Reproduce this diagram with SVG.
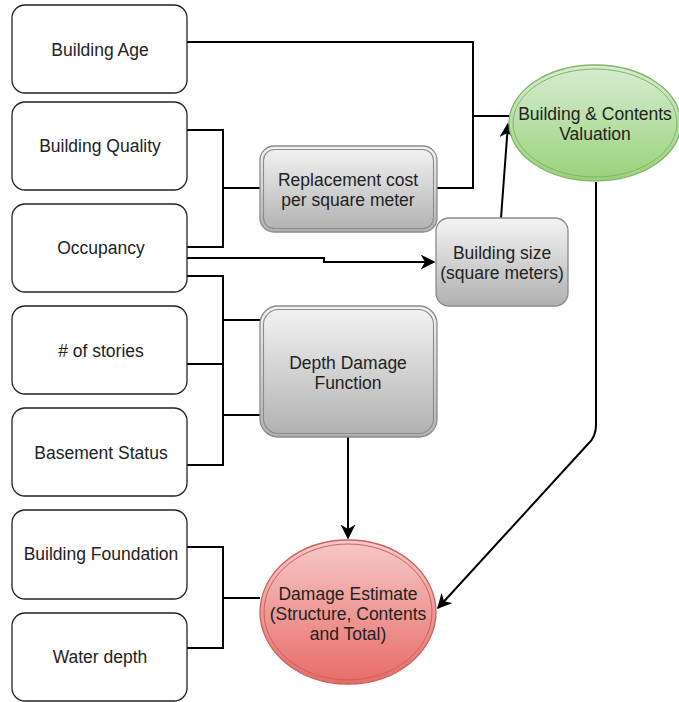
<svg xmlns="http://www.w3.org/2000/svg" width="679" height="702" viewBox="0 0 679 702">
<defs>
<linearGradient id="gGray" x1="0" y1="0" x2="0" y2="1"><stop offset="0" stop-color="#f4f4f4"/><stop offset="1" stop-color="#b0b0b0"/></linearGradient>
<linearGradient id="gGreen" x1="0" y1="0" x2="0" y2="1"><stop offset="0" stop-color="#d8ecd2"/><stop offset="1" stop-color="#98d27a"/></linearGradient>
<linearGradient id="gRed" x1="0" y1="0" x2="0" y2="1"><stop offset="0" stop-color="#f6c9c8"/><stop offset="1" stop-color="#e86b67"/></linearGradient>
<marker id="arr" viewBox="0 0 10 10" refX="9" refY="5" markerWidth="7.5" markerHeight="7.5" orient="auto" markerUnits="strokeWidth">
<path d="M0,0 L10,5 L0,10 L3,5 z" fill="#000"/>
</marker>
<style>
text{font-family:"Liberation Sans",Arial,sans-serif;font-size:17.5px;fill:#222;text-anchor:middle;dominant-baseline:central}
.in{fill:#fff;stroke:#222;stroke-width:1.3}
.gb{fill:url(#gGray);stroke:#8a8a8a;stroke-width:1.3}
.gi{fill:none;stroke:#8a8a8a;stroke-width:1.1}
.c{fill:none;stroke:#000;stroke-width:2}
</style>
</defs>
<g id="connectors">
<polyline class="c" points="187,42 473,42 473,188 437,188"/>
<line class="c" x1="473" y1="116" x2="509" y2="116"/>
<polyline class="c" points="187,130 223,130 223,247 187,247"/>
<line class="c" x1="223" y1="188" x2="260" y2="188"/>
<polyline class="c" points="187,258 324,258 324,262 434,262" marker-end="url(#arr)"/>
<polyline class="c" points="187,276 223,276 223,465 187,465"/>
<line class="c" x1="187" y1="364" x2="223" y2="364"/>
<line class="c" x1="223" y1="320" x2="260" y2="320"/>
<line class="c" x1="223" y1="415" x2="260" y2="415"/>
<line class="c" x1="501" y1="218" x2="508" y2="124" marker-end="url(#arr)"/>
<line class="c" x1="348" y1="437" x2="348" y2="538" marker-end="url(#arr)"/>
<polyline class="c" points="187,547 223,547 223,648 187,648"/>
<line class="c" x1="223" y1="598" x2="260" y2="598"/>
<path class="c" d="M596,182 L596,425 Q596,437 588,444 L438,608" marker-end="url(#arr)"/>
</g>
<g id="building-age"><rect class="in" x="12" y="5" width="175" height="88" rx="13"/><text x="100" y="50">Building Age</text></g>
<g id="building-quality"><rect class="in" x="12" y="102" width="175" height="88" rx="13"/><text x="100" y="146">Building Quality</text></g>
<g id="occupancy"><rect class="in" x="12" y="204" width="175" height="88" rx="13"/><text x="101" y="248">Occupancy</text></g>
<g id="stories"><rect class="in" x="12" y="306" width="175" height="88" rx="13"/><text x="101" y="351"># of stories</text></g>
<g id="basement"><rect class="in" x="12" y="408" width="175" height="88" rx="13"/><text x="101" y="453">Basement Status</text></g>
<g id="foundation"><rect class="in" x="12" y="510" width="175" height="89" rx="13"/><text x="101" y="554">Building Foundation</text></g>
<g id="water-depth"><rect class="in" x="12" y="613" width="175" height="88" rx="13"/><text x="100" y="657">Water depth</text></g>
<g id="replacement-cost"><rect class="gb" x="260" y="146" width="177" height="86" rx="14"/><rect class="gi" x="263.5" y="149.5" width="170" height="79" rx="11"/><text x="348" y="180">Replacement cost</text><text x="348" y="200">per square meter</text></g>
<g id="building-size"><rect class="gb" x="436" y="218" width="132" height="88" rx="13"/><text x="502" y="253">Building size</text><text x="502" y="273">(square meters)</text></g>
<g id="depth-damage"><rect class="gb" x="260" y="306" width="177" height="131" rx="18"/><rect class="gi" x="263.5" y="309.5" width="170" height="124" rx="15"/><text x="348" y="363">Depth Damage</text><text x="348" y="383">Function</text></g>
<g id="valuation"><ellipse cx="595" cy="123" rx="86" ry="58" fill="url(#gGreen)" stroke="#82b366" stroke-width="1.3"/><ellipse cx="595" cy="123" rx="82" ry="54" fill="none" stroke="#82b366" stroke-width="1"/><text x="595" y="114">Building &amp; Contents</text><text x="595" y="134">Valuation</text></g>
<g id="damage-estimate"><ellipse cx="348" cy="612" rx="88" ry="72" fill="url(#gRed)" stroke="#c9605c" stroke-width="1.3"/><ellipse cx="348" cy="612" rx="84" ry="68" fill="none" stroke="#c9605c" stroke-width="1"/><text x="348" y="594">Damage Estimate</text><text x="348" y="614">(Structure, Contents</text><text x="348" y="634">and Total)</text></g>
</svg>
